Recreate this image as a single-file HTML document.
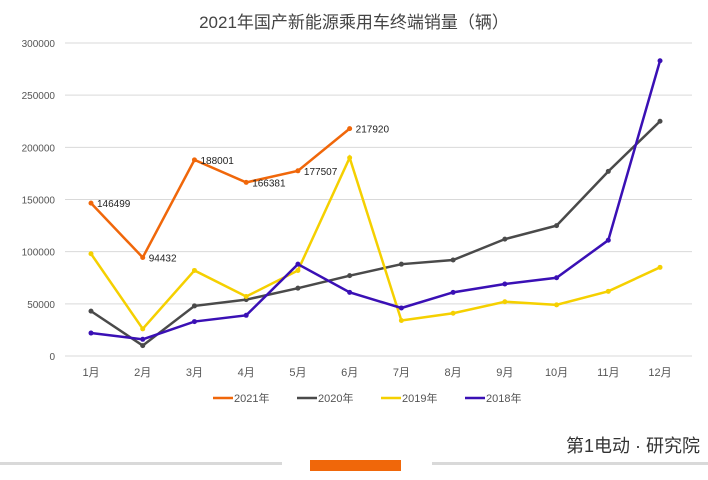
<!DOCTYPE html>
<html><head><meta charset="utf-8"><style>
body{margin:0;background:#fff;font-family:"Liberation Sans","Noto Sans CJK SC",sans-serif}
svg text{font-family:"Liberation Sans","Noto Sans CJK SC",sans-serif}
</style></head><body>
<svg id="c" width="708" height="475">
<text x="354" y="28" text-anchor="middle" font-size="17" fill="#444">2021年国产新能源乘用车终端销量（辆）</text>
<g id="grid"></g><g id="series"></g><g id="legend"></g>
<rect x="0" y="462" width="282" height="3" fill="#d9d9d9"/>
<rect x="432" y="462" width="276" height="3" fill="#d9d9d9"/>
<rect x="310" y="460" width="91" height="11" fill="#f0670a"/>
<text x="700" y="452" text-anchor="end" font-size="18" fill="#333">第1电动 · 研究院</text>
</svg>
<script>
const months=["1月","2月","3月","4月","5月","6月","7月","8月","9月","10月","11月","12月"];
const yTicks=[0,50000,100000,150000,200000,250000,300000];
const s2021=[146499,94432,188001,166381,177507,217920];
const s2020=[43000,10000,48000,54000,65000,77000,88000,92000,112000,125000,177000,225000];
const s2019=[98000,26000,82000,57000,82000,190000,34000,41000,52000,49000,62000,85000];
const s2018=[22000,16000,33000,39000,88000,61000,46000,61000,69000,75000,111000,283000];
const names=["2021年","2020年","2019年","2018年"];
const colors=["#f0670a","#4a4a4a","#f5d000","#3a10b5"];
const NS="http://www.w3.org/2000/svg";
const x=i=>91+i*51.73, y=v=>356-v/300000*313;
function mk(t,a,p){const e=document.createElementNS(NS,t);for(const k in a)e.setAttribute(k,a[k]);p.appendChild(e);return e;}
const g=document.getElementById('grid');
yTicks.forEach(v=>{
 const l=mk('line',{x1:65,x2:692,y1:y(v),y2:y(v),stroke:'#d9d9d9','stroke-width':1},g);
 
 
 const t=mk('text',{x:55,y:y(v)+4,'text-anchor':'end','font-size':10,fill:'#555'},g);t.textContent=v;
 
 
});
months.forEach((m,i)=>{
 const t=mk('text',{x:x(i),y:376,'text-anchor':'middle','font-size':11,fill:'#555'},g);t.textContent=m;
 
 
});
const sg=document.getElementById('series');
[s2020,s2019,s2018,s2021].forEach((d,k)=>{
 const ci=[1,2,3,0][k];
 const p=mk('polyline',{points:d.map((v,i)=>x(i)+','+y(v)).join(' '),fill:'none',stroke:colors[ci],'stroke-width':2.5},sg);
 
 
 d.forEach((v,i)=>{const c=mk('circle',{cx:x(i),cy:y(v),r:2.5,fill:colors[ci]},sg);
  
  });
});
s2021.forEach((v,i)=>{const t=mk('text',{x:x(i)+6,y:y(v)+i%2*0+4,'font-size':10,fill:'#222'},sg);t.textContent=v;
 
 });
const lg=document.getElementById('legend');
const lx=[213,297,381,465];
names.forEach((n,i)=>{
 const l=mk('line',{x1:lx[i],x2:lx[i]+20,y1:398,y2:398,stroke:colors[i],'stroke-width':2.5},lg);
 
 
 const t=mk('text',{x:lx[i]+21,y:402,'font-size':11,fill:'#555'},lg);t.textContent=n;
 
 
});
</script>
</body></html>
